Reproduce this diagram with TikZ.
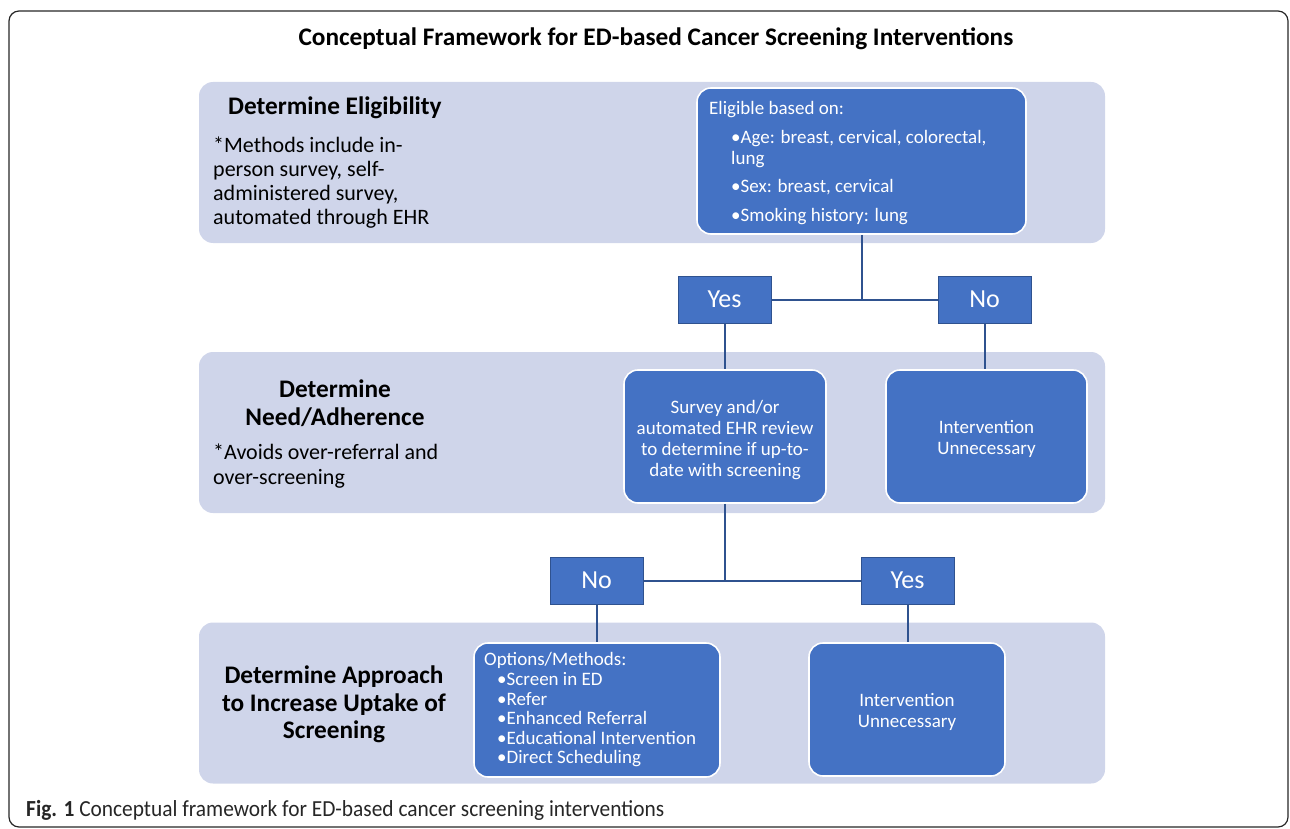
\documentclass[tikz,border=0pt]{standalone}
\usepackage{fontspec}
\usepackage{graphicx}
\setmainfont{Carlito}
\definecolor{bandc}{HTML}{CFD5EA}
\definecolor{boxc}{HTML}{4472C4}
\definecolor{linec}{HTML}{2F528F}
\begin{document}
\begin{tikzpicture}[x=1pt,y=-1pt,
  band/.style={fill=bandc, draw=none, rounded corners=14pt, minimum width=906pt, minimum height=161pt, inner sep=0pt},
  bluebox/.style={fill=boxc, draw=white, line width=1.6pt, rounded corners=14pt, inner sep=0pt},
  boxtext/.style={inner sep=0pt, text=white, align=center, font=\fontsize{19}{21}\selectfont},
  yn/.style={fill=boxc, draw=linec, line width=1pt, minimum width=93pt, minimum height=47pt, inner sep=0pt, text=white, font=\fontsize{26}{30}\selectfont},
  conn/.style={draw=linec, line width=2pt},
  lbl/.style={inner sep=0pt, anchor=north west, align=left},
  head/.style={inner sep=0pt, align=center, font=\bfseries\fontsize{25.3}{27.5}\selectfont},
]
\useasboundingbox (0,0) rectangle (1290,829);
\draw[line width=1.2pt, rounded corners=10pt, black!85] (9,11) rectangle (1288,827);

\node[inner sep=0pt, font=\bfseries\fontsize{25.3}{30}\selectfont] (title) at (656,39) {Conceptual Framework for ED-based Cancer Screening Interventions};

% bands
\node[band] (b1) at (652,162.5) {};
\node[band] (b2) at (652,432.5) {};
\node[band] (b3) at (652,703) {};

% band texts
\node[lbl, font=\bfseries\fontsize{25.3}{30}\selectfont] (t1) at (228,97) {Determine Eligibility};
\node[lbl, font=\fontsize{22}{24}\selectfont] (m1) at (213,137) {*Methods include in-\\person survey, self-\\administered survey,\\automated through EHR};
\node[head] (t2) at (335,403) {Determine\\Need/Adherence};
\node[lbl, font=\fontsize{22}{25}\selectfont] (m2) at (213,443.5) {*Avoids over-referral and\\over-screening};
\node[head] (t3) at (334,704.5) {Determine Approach\\to Increase Uptake of\\Screening};

% boxes
\node[bluebox, minimum width=329pt, minimum height=146pt] (elig) at (861.5,161) {};
\node[lbl, text=white, font=\fontsize{19}{21}\selectfont] (e1) at (709,101) {Eligible based on:};
\node[lbl, text=white, font=\fontsize{19}{21}\selectfont] (e2) at (731,130) {•Age: breast, cervical, colorectal,\\lung\\[7pt]•Sex: breast, cervical\\[8pt]•Smoking history: lung};

\node[yn] (yes1) at (724.5,299.5) {Yes};
\node[yn] (no1) at (984.5,299.5) {No};

\node[bluebox, minimum width=202pt, minimum height=133pt] (survey) at (725,436.5) {};
\node[boxtext] (st) at ([yshift=-4pt]survey.center) {Survey and/or\\automated EHR review\\to determine if up-to-\\date with screening};
\node[bluebox, minimum width=201pt, minimum height=133pt] (iu1) at (986.5,436.5) {};
\node[boxtext] (iu1t) at ([yshift=-2pt]iu1.center) {Intervention\\Unnecessary};

\node[yn] (no2) at (596.5,580.5) {No};
\node[yn] (yes2) at (907.5,580.5) {Yes};

\node[bluebox, minimum width=246pt, minimum height=134pt] (opt) at (597,710) {};
\node[lbl, text=white, font=\fontsize{19}{19.6}\selectfont] (o1) at (484,652.5) {Options/Methods:\\
\hspace*{13pt}•Screen in ED\\
\hspace*{13pt}•Refer\\
\hspace*{13pt}•Enhanced Referral\\
\hspace*{13pt}•Educational Intervention\\
\hspace*{13pt}•Direct Scheduling};
\node[bluebox, minimum width=196pt, minimum height=133pt] (iu2) at (907,709.5) {};
\node[boxtext] (iu2t) at ([yshift=-2pt]iu2.center) {Intervention\\Unnecessary};

% connectors
\draw[conn] (elig.south) -- (elig.south |- yes1.east);
\draw[conn] (yes1) -- (no1);
\draw[conn] (yes1.south) -- (yes1.south |- survey.north);
\draw[conn] (no1.south) -- (no1.south |- iu1.north);
\draw[conn] (survey.south) -- (survey.south |- no2.east);
\draw[conn] (no2) -- (yes2);
\draw[conn] (no2.south) -- (no2.south |- opt.north);
\draw[conn] (yes2.south) -- (yes2.south |- iu2.north);

% caption
\node[anchor=base west, inner sep=0pt, text=black!85, font=\fontsize{23}{26}\selectfont] (cap) at (26,816) {\scalebox{0.93}[1]{\textbf{Fig. 1} Conceptual framework for ED-based cancer screening interventions}};
\end{tikzpicture}
\end{document}
